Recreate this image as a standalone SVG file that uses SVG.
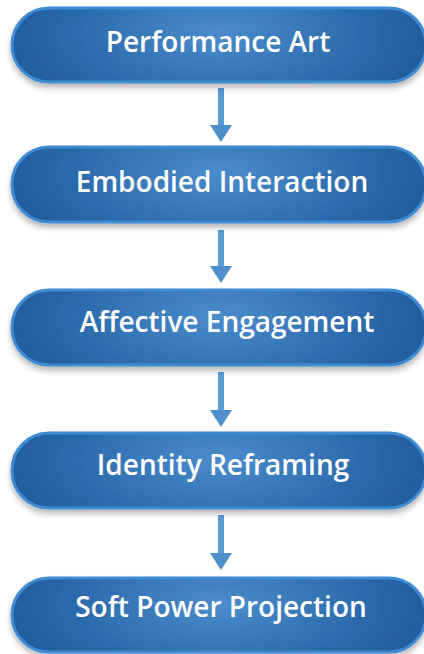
<svg xmlns="http://www.w3.org/2000/svg" width="424" height="654" viewBox="0 0 424 654">
<defs>
<radialGradient id="g" cx="0.5" cy="0.35" r="0.6" gradientTransform="translate(0.5 0.35) scale(1 2.5) translate(-0.5 -0.35)">
<stop offset="0" stop-color="#4a8ccb"/>
<stop offset="0.6" stop-color="#2a69ab"/>
<stop offset="1" stop-color="#1d5694"/>
</radialGradient>
<filter id="sh" x="-10%" y="-30%" width="120%" height="170%">
<feGaussianBlur in="SourceAlpha" stdDeviation="3"/>
<feOffset dy="4"/>
<feComponentTransfer><feFuncA type="linear" slope="0.3"/></feComponentTransfer>
<feMerge><feMergeNode/><feMergeNode in="SourceGraphic"/></feMerge>
</filter>
</defs>
<style>
.node{fill:url(#g);stroke:#3d8bd2;stroke-width:3;filter:url(#sh)}
.lbl{font-family:"Open Sans","Noto Sans",sans-serif;font-weight:600;font-size:28px;fill:#ffffff;text-anchor:middle}
.shaft{fill:#5b9bd5}
.head{fill:#4f8fcc}
</style>
<rect width="424" height="654" fill="#ffffff"/>
<g id="connectors">
<rect class="shaft" x="218" y="88" width="6" height="38"/><polygon class="head" points="210,125 232,125 221,142"/>
<rect class="shaft" x="218" y="230" width="6" height="37"/><polygon class="head" points="210,266 232,266 221,283"/>
<rect class="shaft" x="218" y="372" width="6" height="39"/><polygon class="head" points="210,410 232,410 221,427"/>
<rect class="shaft" x="218" y="515" width="6" height="39"/><polygon class="head" points="210,553 232,553 221,570"/>
</g>
<g id="n1"><rect class="node" x="12" y="8" width="414" height="74" rx="37"/><text class="lbl" x="218" y="52">Performance Art</text></g>
<g id="n2"><rect class="node" x="12" y="147" width="414" height="75" rx="37"/><text class="lbl" x="222" y="192">Embodied Interaction</text></g>
<g id="n3"><rect class="node" x="12" y="290" width="414" height="75" rx="37"/><text class="lbl" x="227" y="332">Affective Engagement</text></g>
<g id="n4"><rect class="node" x="12" y="433" width="414" height="75" rx="37"/><text class="lbl" x="223" y="475">Identity Reframing</text></g>
<g id="n5"><rect class="node" x="12" y="578" width="414" height="74" rx="37"/><text class="lbl" x="221" y="617">Soft Power Projection</text></g>
</svg>
